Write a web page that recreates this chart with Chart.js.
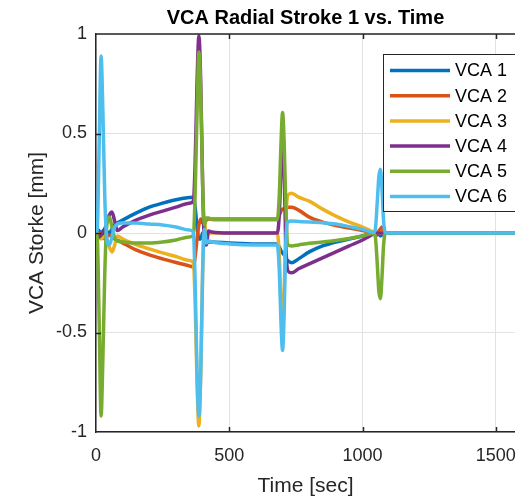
<!DOCTYPE html>
<html>
<head>
<meta charset="utf-8">
<script src="https://cdn.jsdelivr.net/npm/chart.js@4.4.1/dist/chart.umd.min.js"></script>
<style>
  html, body { margin: 0; padding: 0; background: #fff; overflow: hidden; }
  #wrap { width: 515px; height: 499px; }
</style>
</head>
<body>
<div id="wrap"><canvas id="strokeChart" width="515" height="499"></canvas></div>
<script>
// time samples [sec], shared by all six actuators
const times = [
  0, 5, 12, 19, 26, 33, 40, 50, 60, 70,
  80, 100, 150, 200, 250, 300, 350, 365, 372, 379,
  386, 393, 400, 407, 414, 422, 435, 500, 600, 680,
  688, 694, 700, 706, 712, 720, 734, 760, 800, 850,
  900, 950, 1000, 1040, 1048, 1055, 1061, 1067, 1073, 1079,
  1086, 1095, 1150, 1572
];

// radial stroke [mm]
const vca1 = [
  0.02, 0.02, 0.01, 0.0, 0.01, 0.02, 0.01, 0.0, 0.02, 0.04,
  0.05, 0.065, 0.1, 0.13, 0.15, 0.167, 0.178, 0.18, 0.13, 0.03,
  -0.03, -0.03, 0.0, -0.02, -0.045, -0.045, -0.045, -0.05, -0.055, -0.055,
  -0.07, -0.09, -0.1, -0.11, -0.125, -0.14, -0.15, -0.13, -0.095, -0.065,
  -0.045, -0.03, -0.015, -0.003, -0.005, -0.01, 0.0, -0.015, -0.01, 0.0,
  0, 0, 0, 0
];
const vca2 = [
  -0.02, -0.03, -0.02, 0.0, -0.02, -0.03, -0.02, -0.01, -0.02, -0.03,
  -0.035, -0.05, -0.085, -0.11, -0.13, -0.148, -0.165, -0.17, -0.12, -0.03,
  0.04, 0.07, 0.05, 0.055, 0.065, 0.07, 0.07, 0.07, 0.07, 0.07,
  0.09, 0.11, 0.12, 0.12, 0.125, 0.13, 0.13, 0.115, 0.08, 0.055,
  0.038, 0.025, 0.012, 0.002, 0.0, -0.005, 0.01, 0.02, 0.03, 0.01,
  0, 0, 0, 0
];
const vca3 = [
  0.0, 0.0, -0.02, -0.03, -0.02, -0.01, -0.03, -0.07, -0.095, -0.06,
  -0.015, -0.03, -0.058, -0.08, -0.1, -0.118, -0.138, -0.148, -0.35, -0.75,
  -0.97, -0.7, -0.2, 0.06, -0.03, 0.0, 0.0, 0.0, 0.0, 0.0,
  -0.12, -0.35, -0.48, -0.3, 0.05, 0.19, 0.2, 0.18, 0.16, 0.12,
  0.085, 0.055, 0.03, 0.005, 0, 0, 0, 0, 0, 0,
  0, 0, 0, 0
];
const vca4 = [
  0.0, -0.01, -0.02, -0.01, 0.0, 0.02, 0.05, 0.09, 0.105, 0.06,
  0.012, 0.03, 0.065, 0.09, 0.11, 0.13, 0.15, 0.16, 0.35, 0.75,
  0.99, 0.75, 0.25, -0.05, -0.06, 0.01, 0.005, 0.0, 0.0, 0.0,
  0.1, 0.32, 0.45, 0.3, -0.05, -0.19, -0.2, -0.18, -0.155, -0.125,
  -0.095, -0.065, -0.035, -0.005, 0, 0, 0, 0, 0, 0,
  0, 0, 0, 0
];
const vca5 = [
  0, -0.03, -0.45, -0.92, -0.62, -0.2, 0.03, 0.08, 0.03, -0.025,
  -0.04, -0.045, -0.05, -0.05, -0.045, -0.035, -0.02, -0.012, 0.2, 0.6,
  0.91, 0.7, 0.25, 0.04, 0.075, 0.075, 0.068, 0.066, 0.066, 0.066,
  0.2, 0.45, 0.605, 0.45, 0.15, -0.06, -0.065, -0.06, -0.052, -0.045,
  -0.038, -0.028, -0.015, -0.002, -0.02, -0.15, -0.29, -0.33, -0.22, -0.06,
  0.0, 0, 0, 0
];
const vca6 = [
  0, 0.03, 0.45, 0.89, 0.6, 0.18, -0.02, -0.06, -0.02, 0.03,
  0.045, 0.05, 0.05, 0.045, 0.04, 0.03, 0.015, 0.005, -0.25, -0.7,
  -0.92, -0.7, -0.2, 0.02, -0.05, -0.04, -0.045, -0.055, -0.06, -0.06,
  -0.2, -0.45, -0.59, -0.4, -0.05, 0.055, 0.06, 0.058, 0.055, 0.052,
  0.045, 0.032, 0.018, 0.003, 0.02, 0.15, 0.28, 0.32, 0.22, 0.06,
  0.0, 0, 0, 0
];

const seriesLabels = ['VCA 1', 'VCA 2', 'VCA 3', 'VCA 4', 'VCA 5', 'VCA 6'];
const seriesColors = ['#0072BD', '#D95319', '#EDB120', '#7E2F8E', '#77AC30', '#4DBEEE'];
const xTicks = [0, 500, 1000, 1500];
const yTicks = [-1, -0.5, 0, 0.5, 1];

const FONT = "'Liberation Sans', Arial, Helvetica, sans-serif";
const INK = '#262626';

function toPoints(values) {
    return values.map((v, i) => ({ x: times[i], y: v }));
}

// top box line + inward tick marks, like matlab axes
const boxPlugin = {
    id: 'boxAndTicks',
    afterDatasetsDraw(chart) {
        const { ctx, chartArea } = chart;
        const xs = chart.scales.x, ys = chart.scales.y;
        ctx.save();
        ctx.strokeStyle = INK;
        ctx.lineWidth = 1.5;
        ctx.beginPath();
        ctx.moveTo(chartArea.left, chartArea.top);
        ctx.lineTo(chartArea.right, chartArea.top);
        ctx.stroke();
        xTicks.forEach(v => {
            if (v === xTicks[0]) return;
            let px = Math.round(xs.getPixelForValue(v)) + 0.5;
            ctx.beginPath();
            ctx.moveTo(px, chartArea.bottom); ctx.lineTo(px, chartArea.bottom - 5);
            ctx.moveTo(px, chartArea.top); ctx.lineTo(px, chartArea.top + 5);
            ctx.stroke();
        });
        yTicks.forEach(v => {
            if (v === yTicks[0] || v === yTicks[yTicks.length - 1]) return;
            let py = Math.round(ys.getPixelForValue(v)) + 0.5;
            ctx.beginPath();
            ctx.moveTo(chartArea.left, py); ctx.lineTo(chartArea.left + 5, py);
            ctx.stroke();
        });
        ctx.restore();
    }
};

// legend box sitting inside the axes (north-east)
const legendPlugin = {
    id: 'insideLegend',
    afterDraw(chart) {
        const ctx = chart.ctx;
        const left = 383.5, top = 54.5, w = 170, h = 157;
        ctx.save();
        ctx.fillStyle = '#fff';
        ctx.fillRect(left, top, w, h);
        ctx.strokeStyle = INK;
        ctx.lineWidth = 1;
        ctx.strokeRect(left, top, w, h);
        ctx.font = '18px ' + FONT;
        ctx.textBaseline = 'middle';
        ctx.textAlign = 'left';
        chart.data.datasets.forEach((ds, i) => {
            let y = 70.5 + i * 25.2;
            ctx.strokeStyle = ds.borderColor;
            ctx.lineWidth = 3.5;
            ctx.beginPath();
            ctx.moveTo(390, y); ctx.lineTo(450, y);
            ctx.stroke();
            ctx.fillStyle = '#000';
            ctx.fillText(ds.label, 455, y + 1);
        });
        ctx.restore();
    }
};

function createChartConfig() {
    const datasets = [vca1, vca2, vca3, vca4, vca5, vca6].map((vals, i) => ({
        label: seriesLabels[i],
        data: toPoints(vals),
        borderColor: seriesColors[i],
        backgroundColor: seriesColors[i],
        borderWidth: 3.5,
        pointRadius: 0,
        cubicInterpolationMode: 'monotone',
        fill: false,
        order: 6 - i  // last series ends up on top
    }));

    return {
        type: 'line',
        data: { datasets: datasets },
        options: {
            responsive: false,
            animation: false,
            devicePixelRatio: 1,
            events: [],
            layout: { padding: 0 },
            plugins: {
                legend: { display: false },
                tooltip: { enabled: false },
                title: {
                    display: true,
                    text: 'VCA Radial Stroke 1 vs. Time',
                    fullSize: false,
                    color: '#000',
                    font: { family: FONT, size: 20, weight: 'bold' },
                    padding: { top: 6, bottom: 4 }
                }
            },
            scales: {
                x: {
                    type: 'linear',
                    min: 0,
                    max: 1572,
                    afterBuildTicks: s => { s.ticks = xTicks.map(v => ({ value: v })); },
                    afterFit: s => { s.height = 67; s.paddingLeft = 0; s.paddingRight = 0; },
                    ticks: {
                        color: INK,
                        font: { family: FONT, size: 18 },
                        padding: 13,
                        maxRotation: 0,
                        autoSkip: false,
                        callback: v => String(v)
                    },
                    grid: { color: '#e2e2e2', lineWidth: 1, drawTicks: false },
                    border: { display: true, color: INK, width: 1.5 },
                    title: {
                        display: true,
                        text: 'Time [sec]',
                        color: INK,
                        font: { family: FONT, size: 21 },
                        padding: { top: 0, bottom: 0 }
                    }
                },
                y: {
                    min: -1,
                    max: 1,
                    afterBuildTicks: s => { s.ticks = yTicks.map(v => ({ value: v })); },
                    afterFit: s => { s.width = 96; s.paddingTop = 0; s.paddingBottom = 0; },
                    ticks: {
                        color: INK,
                        font: { family: FONT, size: 18 },
                        padding: 9,
                        callback: v => String(v)
                    },
                    grid: { color: '#e2e2e2', lineWidth: 1, drawTicks: false },
                    border: { display: true, color: INK, width: 1.5 },
                    title: {
                        display: true,
                        text: 'VCA Storke [mm]',
                        color: INK,
                        font: { family: FONT, size: 21 },
                        padding: { top: 25, bottom: 0 }
                    }
                }
            }
        },
        plugins: [boxPlugin, legendPlugin]
    };
}

var ctx = document.getElementById('strokeChart').getContext('2d');
new Chart(ctx, createChartConfig());
</script>
</body>
</html>
